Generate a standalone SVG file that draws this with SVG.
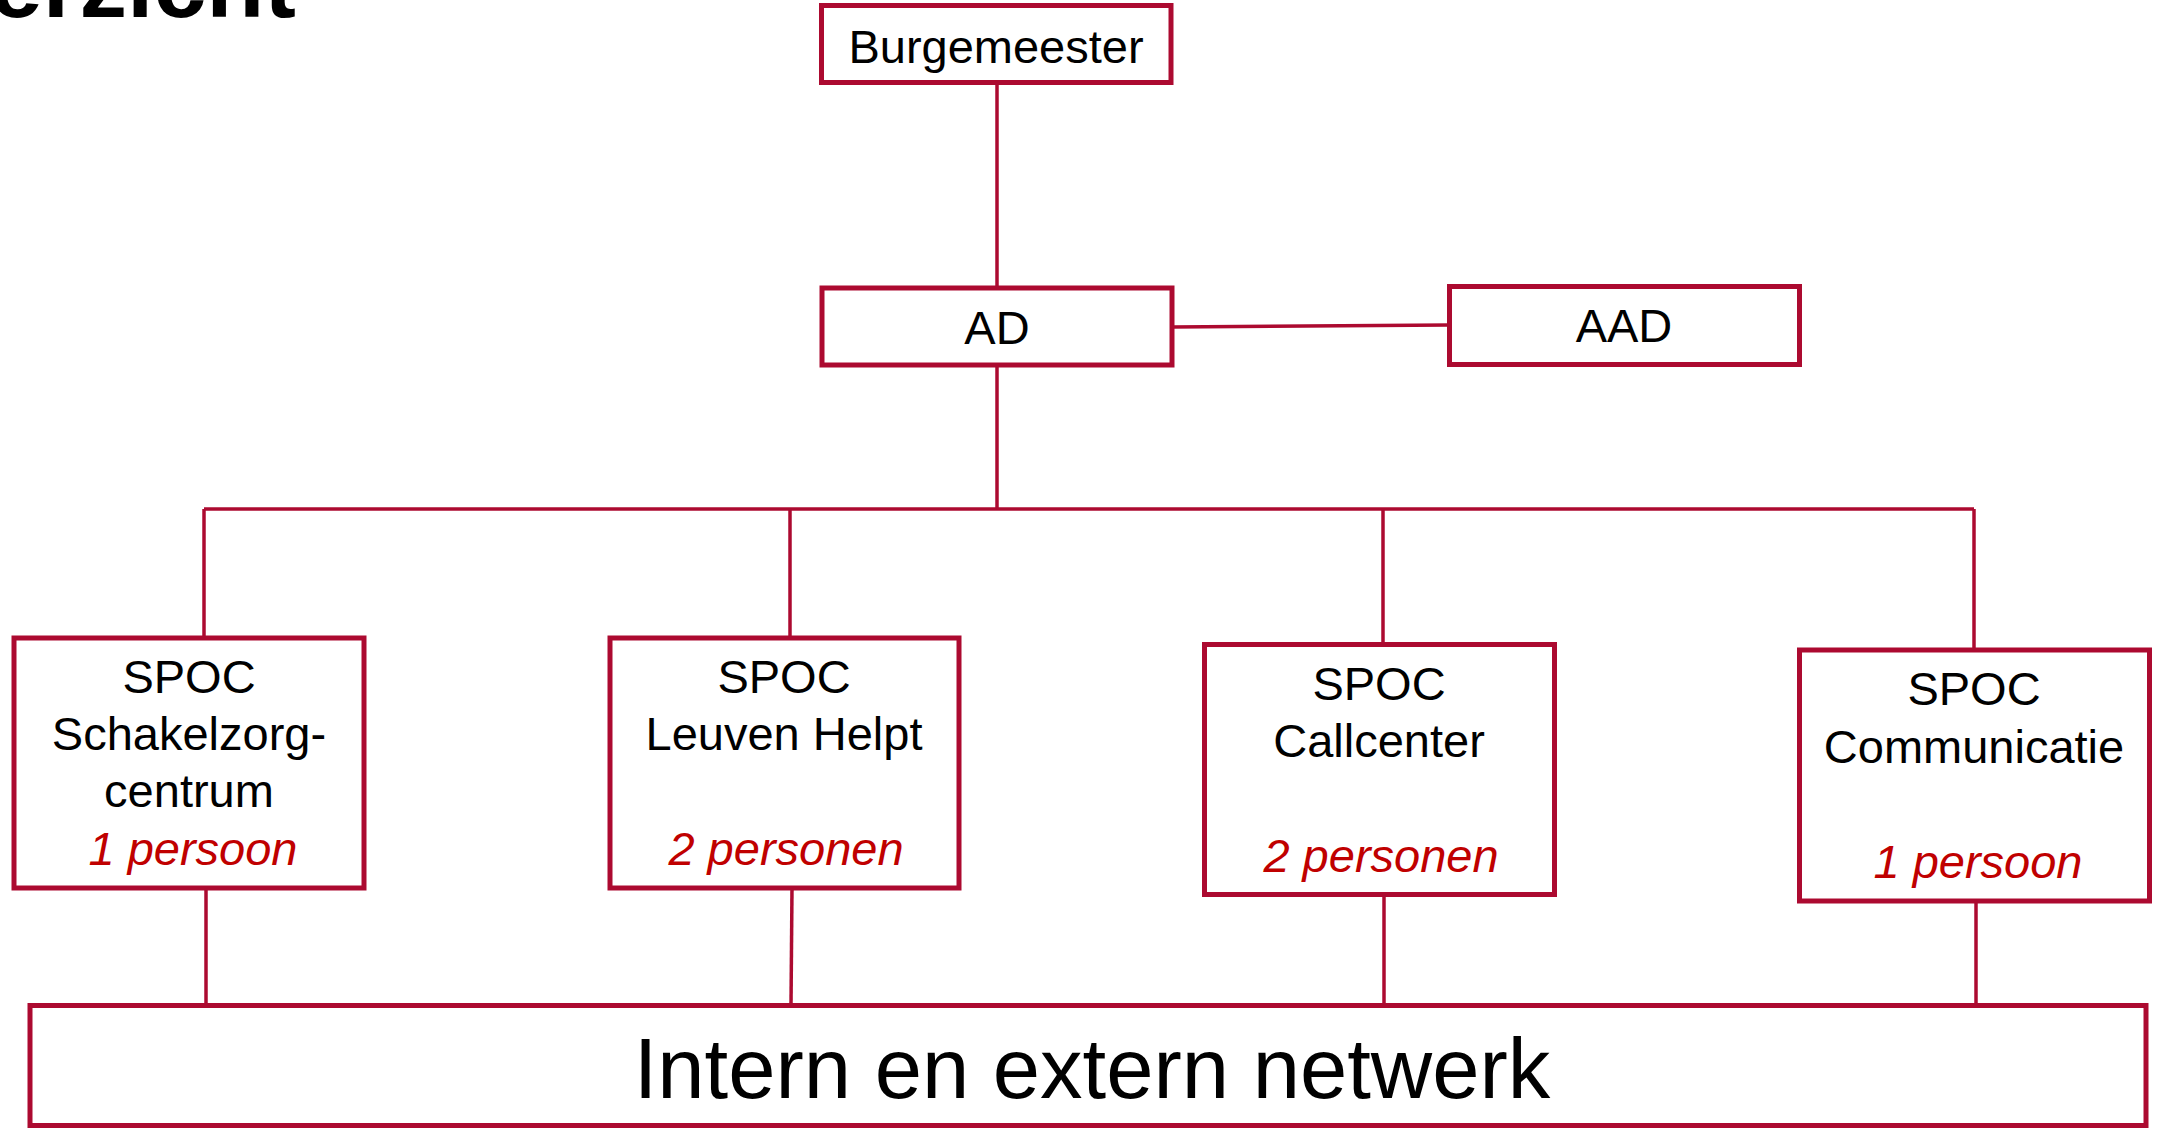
<svg xmlns="http://www.w3.org/2000/svg" width="2157" height="1128" viewBox="0 0 2157 1128">
  <style>
    .box { fill: #ffffff; stroke: #AC0A30; stroke-width: 5; }
    .wire { fill: none; stroke: #AC0A30; stroke-width: 3.5; }
    .lbl { font-family: "Liberation Sans", Arial, sans-serif; font-size: 47px; fill: #000000; text-anchor: middle; }
    .count { font-family: "Liberation Sans", Arial, sans-serif; font-size: 47px; font-style: italic; fill: #C00000; text-anchor: middle; }
    .big { font-family: "Liberation Sans", Arial, sans-serif; font-size: 85px; fill: #000000; text-anchor: middle; }
    .title { font-family: "Liberation Sans", Arial, sans-serif; font-size: 95px; font-weight: bold; fill: #000000; text-anchor: end; }
  </style>

  <rect width="2157" height="1128" fill="#ffffff"/>

  <!-- slide title, mostly above the top edge -->
  <text class="title" x="296" y="17">erzicht</text>

  <!-- connectors -->
  <g id="connectors">
    <line class="wire" x1="997" y1="83" x2="997" y2="288"/>
    <line class="wire" x1="997" y1="365" x2="997" y2="509"/>
    <line class="wire" x1="1172" y1="327" x2="1449" y2="325" stroke-width="4"/>
    <line class="wire" x1="204" y1="509" x2="1974" y2="509" stroke-width="4"/>
    <line class="wire" x1="204" y1="509" x2="204" y2="638"/>
    <line class="wire" x1="790" y1="509" x2="790" y2="638"/>
    <line class="wire" x1="1383" y1="509" x2="1383" y2="644"/>
    <line class="wire" x1="1974" y1="509" x2="1974" y2="650"/>
    <line class="wire" x1="206" y1="888" x2="206" y2="1005"/>
    <line class="wire" x1="792" y1="888" x2="791" y2="1005"/>
    <line class="wire" x1="1384" y1="894" x2="1384" y2="1005"/>
    <line class="wire" x1="1976" y1="896" x2="1976" y2="1005"/>
  </g>

  <g id="burgemeester">
    <rect class="box" x="821.5" y="5.5" width="349.5" height="77"/>
    <text class="lbl" x="996" y="63">Burgemeester</text>
  </g>

  <g id="ad">
    <rect class="box" x="822" y="288" width="350" height="77"/>
    <text class="lbl" x="997" y="344">AD</text>
  </g>

  <g id="aad">
    <rect class="box" x="1449.5" y="286.5" width="350" height="78"/>
    <text class="lbl" x="1624" y="342">AAD</text>
  </g>

  <g id="spoc-schakelzorgcentrum">
    <rect class="box" x="14" y="638" width="350" height="250"/>
    <text class="lbl" x="189" y="693">SPOC</text>
    <text class="lbl" x="189" y="750">Schakelzorg-</text>
    <text class="lbl" x="189" y="807">centrum</text>
    <text class="count" x="193" y="865">1 persoon</text>
  </g>

  <g id="spoc-leuven-helpt">
    <rect class="box" x="610" y="638" width="349" height="250"/>
    <text class="lbl" x="784" y="693">SPOC</text>
    <text class="lbl" x="784" y="750">Leuven Helpt</text>
    <text class="count" x="786" y="865">2 personen</text>
  </g>

  <g id="spoc-callcenter">
    <rect class="box" x="1204.5" y="644.5" width="350" height="250"/>
    <text class="lbl" x="1379" y="700">SPOC</text>
    <text class="lbl" x="1379" y="757">Callcenter</text>
    <text class="count" x="1381" y="872">2 personen</text>
  </g>

  <g id="spoc-communicatie">
    <rect class="box" x="1799.5" y="650" width="350" height="251"/>
    <text class="lbl" x="1974" y="705">SPOC</text>
    <text class="lbl" x="1974" y="763">Communicatie</text>
    <text class="count" x="1978" y="878">1 persoon</text>
  </g>

  <g id="netwerk">
    <rect class="box" x="30" y="1005.5" width="2116" height="120"/>
    <text class="big" x="1092" y="1098">Intern en extern netwerk</text>
  </g>
</svg>
